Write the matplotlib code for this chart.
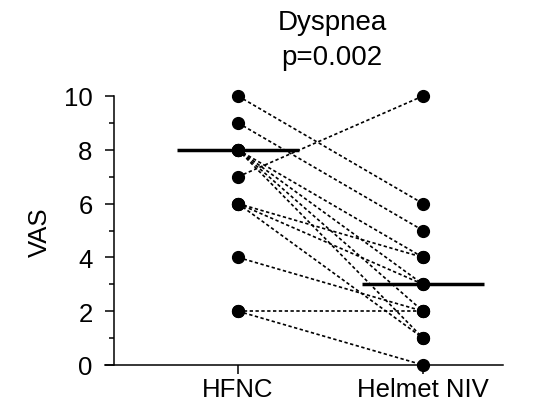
import numpy as np
import matplotlib.pyplot as plt

plt.rcParams['font.family'] = ['Liberation Sans', 'DejaVu Sans']

# paired VAS scores, one entry per patient
groups = ['HFNC', 'Helmet NIV']
hfnc = [10, 9, 7, 8, 8, 8, 8, 6, 6, 6, 4, 2, 2]
helmet = [6, 5, 10, 4, 3, 2, 1, 4, 3, 1, 2, 2, 0]
medians = [8, 3]

fig = plt.figure(figsize=(5.38, 4.10), dpi=100)
ax = fig.add_axes([105 / 538, 44 / 410, 398 / 538, 269 / 410])

# dotted lines joining each patient's two scores
for a, b in zip(hfnc, helmet):
    ax.plot([0, 1], [a, b], color='black', lw=1.2,
            linestyle=(0, (2.0, 1.5)), zorder=2, clip_on=False)

ax.plot(np.zeros(len(hfnc)), hfnc, 'o', color='black', ms=8.5, zorder=3, clip_on=False)
ax.plot(np.ones(len(helmet)), helmet, 'o', color='black', ms=8.5, zorder=3, clip_on=False)

# median bars
for i, m in enumerate(medians):
    ax.plot([i - 0.33, i + 0.33], [m, m], color='black', lw=2.5,
            solid_capstyle='butt', zorder=4, clip_on=False)

ax.set_xlim(-0.719, 1.432)
ax.set_ylim(0, 10)
ax.spines['top'].set_visible(False)
ax.spines['right'].set_visible(False)
ax.spines['left'].set_position(('data', -0.67))
ax.spines['left'].set_linewidth(1.1)
ax.spines['bottom'].set_linewidth(1.1)

ax.set_yticks([0, 2, 4, 6, 8, 10])
ax.set_yticks([1, 3, 5, 7, 9], minor=True)
ax.set_xticks([0, 1])
ax.set_xticklabels(groups)
ax.tick_params(axis='both', which='major', direction='out', length=6.5,
               width=1.1, labelsize=18.5, color='black')
ax.tick_params(axis='y', which='minor', direction='out', length=3.5, width=1.1)
ax.tick_params(axis='y', which='major', pad=9)
ax.tick_params(axis='x', which='major', pad=2.5)

fig.text(40 / 538, 1 - 232 / 410, 'VAS', rotation=90,
         ha='center', va='center', fontsize=18.5)
fig.text(332 / 538, 1 - 10 / 410, 'Dyspnea\np=0.002', ha='center', va='top',
         fontsize=20, linespacing=1.45)

fig.savefig('out.png', dpi=100)
